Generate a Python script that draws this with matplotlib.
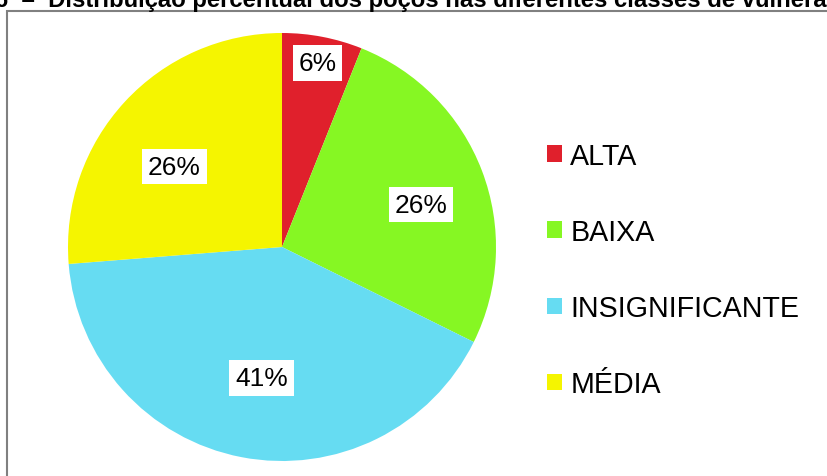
import numpy as np
import matplotlib.pyplot as plt
from matplotlib.patches import Rectangle

plt.rcParams['font.family'] = ['Liberation Sans', 'DejaVu Sans']

classes = ["ALTA", "BAIXA", "INSIGNIFICANTE", "MÉDIA"]
percent = [6, 26, 41, 26]
colors = ["#E0202C", "#86F723", "#66DCF2", "#F5F500"]
# radial position and small angular nudge of each percentage label
label_radius = [0.876, 0.68, 0.62, 0.628]
label_shift = [0, -4, 2, 6]

W, H = 827, 477
fig = plt.figure(figsize=(W / 100, H / 100), dpi=100)

# caption line, partly cut off at the top edge
fig.text(-5 / W, 1 - 7 / H,
         "6  –  Distribuição percentual dos poços nas diferentes classes de vulnerabilidade",
         fontsize=17.2, fontweight='bold', ha='left', va='baseline')

# chart frame running off the right and bottom edges
fig.patches.append(Rectangle((7 / W, -0.1), 1.2, 1.1 - 12 / H, transform=fig.transFigure,
                             fill=False, edgecolor="#808080", linewidth=1.5))

# pie axes: centre (282, 248), radius ~214 px
r = 214
cx, cy = 282, 248
ax = fig.add_axes([(cx - r) / W, (H - cy - r) / H, 2 * r / W, 2 * r / H])
wedges, _ = ax.pie(percent, colors=colors, startangle=90, counterclock=False,
                   wedgeprops=dict(linewidth=0))
ax.set_aspect('equal')
ax.set_xlim(-1, 1)
ax.set_ylim(-1, 1)

for w, p, rr, sh in zip(wedges, percent, label_radius, label_shift):
    mid = np.deg2rad((w.theta1 + w.theta2) / 2 + sh)
    ax.text(rr * np.cos(mid), rr * np.sin(mid), f"{p}%", fontsize=19,
            ha='center', va='center',
            bbox=dict(boxstyle='square,pad=0.22', facecolor='white', edgecolor='none'))

fig.legend(wedges, classes, loc='center left', bbox_to_anchor=(521 / W, 1 - 271 / H),
           frameon=False, fontsize=20.6, handlelength=0.52, handleheight=0.52,
           handletextpad=0.3, labelspacing=1.68)

fig.savefig("out.png", dpi=100)
